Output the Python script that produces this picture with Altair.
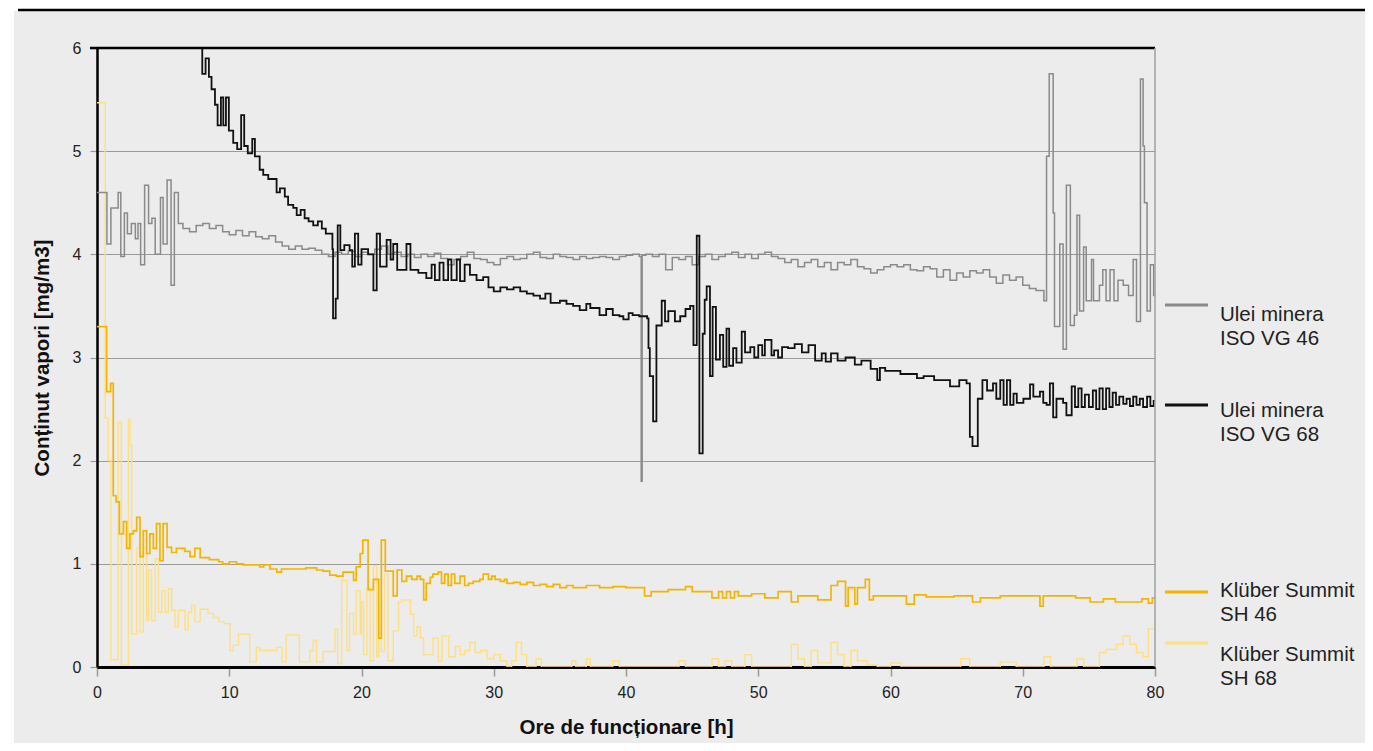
import altair as alt
import pandas as pd

# ---------------- data (hours, value) ----------------
gray_hours = [0, 0.75, 1.05, 1.6, 1.8, 2.07, 2.3, 2.6, 2.9, 3.1, 3.3, 3.6, 3.9, 4.15, 4.4, 4.8, 5.0, 5.3, 5.6, 5.85, 6.15,
              6.5, 7.0, 7.5, 8.0, 8.5, 9.0, 9.5, 10.0, 10.5, 11.0, 11.5, 12.0, 12.5, 13.0, 13.5, 14.0, 14.5, 15.0, 15.5,
              16.0, 16.5, 17.0, 17.5, 18.0, 18.5, 19.0, 19.5, 20.0, 20.5, 21.0, 21.5, 22.0, 22.5, 23.0, 23.5, 24.0,
              24.5, 25.0, 25.5, 26.0, 26.5, 27.0, 27.5, 28.0, 28.5, 29.0, 29.5, 30.0, 30.5, 31.0, 31.5, 32.0, 32.5,
              33.0, 33.5, 34.0, 34.5, 35.0, 35.5, 36.0, 36.5, 37.0, 37.5, 38.0, 38.5, 39.0, 39.5, 40.0, 40.5, 41.0,
              41.15, 41.22, 41.5, 42.0, 42.5, 43.0, 43.5, 44.0, 44.5, 45.0, 45.5, 46.0, 46.5, 47.0, 47.5, 48.0, 48.5,
              49.0, 49.5, 50.0, 50.5, 51.0, 51.5, 52.0, 52.5, 53.0, 53.5, 54.0, 54.5, 55.0, 55.5, 56.0, 56.5, 57.0,
              57.5, 58.0, 58.5, 59.0, 59.5, 60.0, 60.5, 61.0, 61.5, 62.0, 62.5, 63.0, 63.5, 64.0, 64.5, 65.0, 65.5,
              66.0, 66.5, 67.0, 67.5, 68.0, 68.5, 69.0, 69.5, 70.0, 70.5, 71.0, 71.6, 71.8, 72.0, 72.3, 72.4, 72.8,
              73.05, 73.3, 73.6, 73.9, 74.1, 74.3, 74.6, 74.8, 75.2, 75.35, 75.8, 76.05, 76.3, 76.6, 76.9, 77.2,
              77.6, 78.0, 78.35, 78.6, 78.9, 79.1, 79.2, 79.4, 79.65, 79.9, 80.0]
gray_values = [4.6, 4.1, 4.45, 4.6, 3.98, 4.4, 4.2, 4.3, 4.15, 4.3, 3.9, 4.67, 4.3, 4.35, 4.0, 4.55, 4.1, 4.72, 3.7, 4.6, 4.3,
               4.25, 4.22, 4.28, 4.3, 4.25, 4.28, 4.22, 4.19, 4.23, 4.18, 4.22, 4.17, 4.15, 4.18, 4.12, 4.08, 4.05, 4.08,
               4.05, 4.06, 4.04, 4.0, 3.98, 4.02, 4.0, 4.03, 3.98, 4.02, 4.0, 4.05, 4.08, 4.0, 4.02, 3.98, 4.0, 3.97,
               4.0, 3.98, 4.01, 3.96, 3.9, 3.95, 3.98, 4.02, 3.96, 3.95, 3.92, 3.9, 3.96, 3.98, 3.95, 3.96, 4.0,
               4.02, 3.97, 3.96, 4.0, 3.98, 3.97, 3.95, 3.98, 3.96, 3.97, 3.98, 3.97, 3.95, 3.98, 3.99, 4.0, 3.98,
               1.8, 3.99, 4.0, 3.98, 4.0, 3.85, 3.97, 3.95, 3.98, 3.9, 3.98, 4.0, 3.95, 3.98, 4.0, 4.02, 3.97,
               4.0, 3.96, 4.0, 4.02, 3.98, 3.96, 3.92, 3.95, 3.88, 3.92, 3.95, 3.88, 3.92, 3.85, 3.92, 3.9, 3.95,
               3.88, 3.86, 3.82, 3.85, 3.88, 3.9, 3.88, 3.9, 3.85, 3.84, 3.88, 3.86, 3.78, 3.85, 3.75, 3.82, 3.78,
               3.84, 3.82, 3.85, 3.78, 3.72, 3.8, 3.75, 3.78, 3.7, 3.67, 3.65, 3.55, 4.95, 5.75, 4.4, 3.3, 4.1,
               3.08, 4.67, 3.31, 3.41, 4.38, 3.45, 4.07, 3.55, 3.95, 3.55, 3.7, 3.85, 3.55, 3.85, 3.55, 3.75,
               3.7, 3.6, 3.95, 3.35, 5.7, 5.05, 4.5, 3.45, 3.9, 3.6, 3.6]

black_hours = [7.0, 7.96, 8.21, 8.46, 8.66, 8.92, 9.12, 9.37, 9.55, 9.75, 9.97, 10.3, 10.6, 10.9, 11.13, 11.4, 11.74,
               11.94, 12.3, 12.57, 12.95, 13.58, 13.83, 14.2, 14.45, 14.84, 15.1, 15.4, 15.7, 16.0, 16.35, 16.7, 17.0,
               17.3, 17.8, 17.85, 18.05, 18.2, 18.4, 18.7, 19.1, 19.3, 19.5, 19.75, 20.0, 20.5, 20.9, 21.15, 21.4,
               21.9, 22.2, 22.4, 22.7, 23.4, 23.7, 24.3, 24.9, 25.3, 25.55, 25.9, 26.2, 26.55, 26.8, 27.2, 27.45,
               27.8, 28.2, 28.7, 29.2, 29.6, 30.0, 30.5, 31.0, 31.5, 32.0, 32.5, 33.0, 33.5, 33.9, 34.3, 35.0, 35.5,
               36.0, 36.5, 37.0, 37.3, 38.0, 38.5, 39.0, 39.5, 39.8, 40.2, 40.5, 41.0, 41.6, 41.7, 41.8, 42.05,
               42.3, 42.7, 42.95, 43.2, 43.7, 44.1, 44.5, 44.85, 45.1, 45.35, 45.55, 45.8, 45.95, 46.1, 46.35,
               46.55, 46.8, 47.1, 47.35, 47.6, 47.8, 48.1, 48.35, 48.75, 49.0, 49.4, 49.7, 50.0, 50.3, 50.5, 51.0,
               51.2, 51.5, 51.8, 52.25, 52.75, 53.3, 53.8, 54.3, 54.8, 55.1, 55.5, 56.0, 56.6, 57.3, 57.8, 58.5,
               59.0, 59.2, 59.6, 60.75, 62.0, 62.5, 63.3, 64.5, 65.2, 65.75, 66.0, 66.2, 66.6, 66.95, 67.3, 67.75,
               68.0, 68.3, 68.55, 68.8, 69.05, 69.3, 69.55, 70.05, 70.55, 70.8, 71.3, 71.55, 71.8, 72.05, 72.3,
               72.55, 73.05, 73.3, 73.7, 73.95, 74.2, 74.45, 74.7, 75.0, 75.3, 75.55, 75.8, 76.05, 76.3, 76.55,
               76.8, 77.05, 77.3, 77.6, 77.85, 78.1, 78.35, 78.6, 78.85, 79.1, 79.4, 79.65, 79.9, 80.0]
black_values = [6.4, 5.75, 5.9, 5.72, 5.6, 5.45, 5.25, 5.52, 5.25, 5.52, 5.2, 5.08, 5.02, 5.35, 5.05, 4.98, 5.12,
                4.95, 4.82, 4.77, 4.73, 4.6, 4.64, 4.56, 4.48, 4.45, 4.38, 4.43, 4.35, 4.32, 4.28, 4.32, 4.25,
                4.2, 4.05, 3.38, 3.57, 4.28, 4.04, 4.09, 4.04, 3.88, 4.2, 3.9, 4.05, 4.0, 3.65, 4.2, 3.88,
                4.14, 3.95, 4.1, 3.85, 4.1, 3.85, 3.82, 3.77, 3.9, 3.75, 3.92, 3.75, 3.95, 3.75, 3.95, 3.74,
                3.9, 3.8, 3.75, 3.78, 3.68, 3.64, 3.68, 3.66, 3.68, 3.64, 3.62, 3.6, 3.57, 3.62, 3.53, 3.55, 3.52,
                3.5, 3.46, 3.52, 3.48, 3.41, 3.47, 3.41, 3.4, 3.37, 3.43, 3.41, 3.4, 3.38, 3.09, 2.82, 2.38,
                3.31, 3.55, 3.35, 3.45, 3.35, 3.4, 3.47, 3.5, 3.12, 4.18, 2.07, 3.23, 3.56, 3.69, 2.82,
                3.49, 2.98, 3.22, 2.91, 3.28, 2.92, 3.09, 2.95, 3.25, 3.05, 3.1, 3.0, 3.12, 3.02, 3.17, 3.02,
                3.07, 3.0, 3.1, 3.09, 3.13, 3.05, 3.12, 2.97, 3.04, 2.96, 3.04, 2.97, 3.0, 2.93, 2.97, 2.89,
                2.78, 2.9, 2.87, 2.84, 2.8, 2.82, 2.78, 2.72, 2.78, 2.75, 2.23, 2.14, 2.6, 2.78, 2.68, 2.75,
                2.6, 2.78, 2.54, 2.78, 2.54, 2.65, 2.56, 2.6, 2.74, 2.62, 2.67, 2.56, 2.54, 2.75, 2.42,
                2.6, 2.56, 2.44, 2.72, 2.52, 2.7, 2.52, 2.64, 2.52, 2.68, 2.5, 2.7, 2.5, 2.7, 2.52,
                2.66, 2.54, 2.62, 2.55, 2.6, 2.53, 2.62, 2.54, 2.6, 2.52, 2.62, 2.53, 2.58, 2.58]

sh46_hours = [0, 0.73, 1.03, 1.23, 1.44, 1.69, 2.0, 2.24, 2.49, 2.75, 3.0, 3.25, 3.5, 3.75, 4.0, 4.26, 4.5, 4.76, 5.0,
              5.3, 5.64, 6.0, 6.65, 7.03, 7.4, 7.8, 8.5, 9.2, 9.5, 10.0, 10.55, 11.06, 12.3, 12.6, 13.07, 13.6, 13.95,
              15.8, 16.6, 17.1, 17.6, 18.1, 18.6, 19.4, 19.6, 19.9, 20.1, 20.5, 20.9, 21.3, 21.5, 21.8, 22.4, 22.7,
              23.05, 23.4, 23.8, 24.2, 24.45, 24.7, 24.9, 25.2, 25.4, 25.8, 26.05, 26.3, 26.55, 26.8, 27.05, 27.45,
              27.8, 28.1, 28.45, 28.95, 29.2, 29.6, 29.85, 30.1, 30.5, 30.8, 31.0, 31.5, 32.0, 32.5, 33.0, 33.5,
              34.0, 34.5, 35.0, 35.5, 36.0, 37.0, 38.0, 39.0, 40.0, 41.4, 41.9, 43.2, 44.5, 45.0, 46.5, 47.0,
              47.3, 47.6, 47.9, 48.2, 48.5, 49.5, 50.5, 51.5, 52.5, 53.0, 54.5, 55.5, 56.0, 56.6, 56.8, 57.3,
              57.5, 58.1, 58.4, 58.7, 60.0, 61.2, 61.8, 62.7, 64.8, 66.2, 66.8, 68.3, 71.3, 71.55, 74.0, 75.1,
              76.1, 77.0, 79.0, 79.5, 79.8, 80.0]
sh46_values = [3.3, 2.67, 2.75, 1.66, 1.6, 1.29, 1.41, 1.15, 1.29, 1.32, 1.45, 1.07, 1.32, 1.1, 1.29, 1.15, 1.39, 1.03,
               1.39, 1.16, 1.11, 1.15, 1.12, 1.07, 1.15, 1.06, 1.04, 1.02, 1.0, 1.02, 1.0, 0.99, 0.97, 0.99, 0.95,
               0.92, 0.95, 0.96, 0.94, 0.93, 0.89, 0.88, 0.92, 0.84, 0.97, 1.1, 1.23, 0.75, 0.85, 0.28, 1.23,
               0.93, 0.69, 0.94, 0.83, 0.88, 0.85, 0.88, 0.85, 0.65, 0.81, 0.87, 0.9, 0.92, 0.81, 0.9, 0.79, 0.9,
               0.81, 0.88, 0.79, 0.81, 0.83, 0.85, 0.9, 0.85, 0.88, 0.85, 0.83, 0.85, 0.81, 0.82, 0.8, 0.82,
               0.79, 0.8, 0.78, 0.8, 0.77, 0.79, 0.77, 0.79, 0.77, 0.78, 0.77, 0.69, 0.73, 0.75, 0.78, 0.73,
               0.67, 0.73, 0.67, 0.73, 0.67, 0.73, 0.69, 0.71, 0.67, 0.73, 0.63, 0.69, 0.65, 0.79, 0.83, 0.59,
               0.77, 0.61, 0.77, 0.85, 0.65, 0.69, 0.69, 0.61, 0.7, 0.68, 0.69, 0.63, 0.67, 0.69, 0.59, 0.69,
               0.67, 0.63, 0.66, 0.63, 0.66, 0.62, 0.67, 0.67]

sh68_hours = [0, 0.62, 0.85, 1.05, 1.6, 1.85, 2.37, 2.5, 2.62, 3.0, 3.25, 3.5, 3.75, 3.9, 4.13, 4.4, 4.65, 4.9, 5.15,
              5.4, 5.64, 5.9, 6.15, 6.65, 6.9, 7.15, 7.4, 7.8, 8.4, 8.8, 9.2, 9.6, 10.05, 10.3, 10.7, 11.55, 12.05,
              12.3, 13.6, 14.0, 14.3, 15.3, 16.1, 16.35, 16.6, 17.1, 18.0, 18.2, 18.5, 18.9, 19.1, 19.4, 19.6,
              19.9, 20.0, 20.15, 20.4, 20.65, 20.9, 21.15, 21.3, 21.5, 21.75, 22.0, 22.4, 22.8, 23.05, 23.7,
              23.95, 24.2, 24.45, 24.7, 25.4, 25.8, 26.1, 26.6, 27.1, 27.45, 27.8, 28.2, 28.6, 29.0, 29.5, 30.0,
              30.5, 31.0, 31.35, 31.7, 32.1, 32.5, 33.2, 33.6, 35.9, 36.2, 37.0, 37.3, 39.0, 39.5, 44.0, 44.5,
              46.5, 47.0, 47.5, 48.0, 49.0, 49.5, 52.5, 53.0, 53.5, 54.0, 54.5, 55.5, 56.0, 56.5, 57.0, 57.5,
              58.2, 59.0, 60.0, 60.8, 65.3, 66.0, 68.3, 69.5, 71.6, 72.1, 74.1, 74.6, 75.8, 76.3, 77.1, 77.6,
              78.1, 78.6, 79.1, 79.5, 80.0]
sh68_values = [5.47, 2.41, 2.0, 0.07, 2.37, 0.02, 2.4, 2.15, 0.32, 1.16, 0.34, 1.15, 0.45, 0.94, 0.45, 1.05, 0.53,
               0.74, 0.53, 0.76, 0.55, 0.39, 0.55, 0.36, 0.53, 0.6, 0.44, 0.56, 0.52, 0.48, 0.44, 0.42, 0.16, 0.21,
               0.32, 0.05, 0.19, 0.16, 0.19, 0.05, 0.31, 0.05, 0.16, 0.26, 0.05, 0.15, 0.37, 0.03, 0.84, 0.16,
               0.52, 0.32, 0.74, 0.32, 0.63, 0.12, 0.77, 0.06, 0.98, 0.1, 0.6, 0.15, 0.9, 0.06, 0.35, 0.63,
               0.65, 0.51, 0.3, 0.39, 0.28, 0.12, 0.28, 0.06, 0.3, 0.1, 0.2, 0.12, 0.16, 0.24, 0.14, 0.16,
               0.08, 0.12, 0.06, 0.0, 0.06, 0.24, 0.12, 0.0, 0.08, 0.0, 0.06, 0.0, 0.08, 0.0, 0.06, 0.0,
               0.06, 0.0, 0.08, 0.0, 0.06, 0.0, 0.12, 0.0, 0.22, 0.08, 0.0, 0.16, 0.04, 0.24, 0.12, 0.0,
               0.16, 0.06, 0.02, 0.0, 0.04, 0.0, 0.08, 0.0, 0.05, 0.0, 0.1, 0.0, 0.08, 0.0, 0.14, 0.17,
               0.22, 0.3, 0.22, 0.14, 0.1, 0.37, 0.37]

series_names = ["Ulei minera ISO VG 46", "Ulei minera ISO VG 68", "Klüber Summit SH 46", "Klüber Summit SH 68"]
legend_lines = [["Ulei minera", "ISO VG 46"], ["Ulei minera", "ISO VG 68"],
                ["Klüber Summit", "SH 46"], ["Klüber Summit", "SH 68"]]
x_ticks = [0, 10, 20, 30, 40, 50, 60, 70, 80]
y_ticks = [0, 1, 2, 3, 4, 5, 6]

# ---------------- styling ----------------
FONT = "Liberation Sans"
BG = "#ebeceb"
GRID = "#9a9a9a"
colors = {
    series_names[0]: "#8a8a8a",
    series_names[1]: "#111111",
    series_names[2]: "#f5b400",
    series_names[3]: "#ffdf85",
}
W, H = 1058, 619

x_scale = alt.Scale(domain=[0, 80], nice=False, zero=False)
y_scale = alt.Scale(domain=[0, 6], nice=False)

x_axis = alt.Axis(values=x_ticks, title="Ore de funcționare [h]", titleFont=FONT, titleFontSize=20.5,
                  titleFontWeight="bold", titleColor="#111", titleX=W / 2, titleY=60, titleBaseline="middle",
                  labelFont=FONT, labelFontSize=16, labelColor="#222", labelPadding=8, labelFlush=False,
                  domainColor="#000", domainWidth=3, tickColor="#9a9a9a", tickSize=9, tickWidth=1.5,
                  grid=False)
y_axis = alt.Axis(values=y_ticks, title="Conținut vapori [mg/m3]", titleFont=FONT, titleFontSize=20.5,
                  titleFontWeight="bold", titleColor="#111", titleAngle=-90, titleX=-55, titleY=H / 2,
                  titleAlign="center", titleBaseline="middle",
                  labelFont=FONT, labelFontSize=16, labelColor="#222", labelPadding=9,
                  domainColor="#000", domainWidth=2.5, tickColor=GRID, tickSize=7, tickWidth=1.2,
                  grid=True, gridColor=GRID, gridWidth=1.2)

one = pd.DataFrame({"k": [0]})


def series_layer(name, hours, values, width):
    df = pd.DataFrame({"h": hours, "v": values, "s": name})
    return alt.Chart(df).mark_line(interpolate="step-after", clip=True, strokeWidth=width,
                                   color=colors[name]).encode(
        x=alt.X("h:Q", scale=x_scale, axis=x_axis),
        y=alt.Y("v:Q", scale=y_scale, axis=y_axis))


lines = [
    series_layer(series_names[3], sh68_hours, sh68_values, 1.4),
    series_layer(series_names[2], sh46_hours, sh46_values, 1.7),
    series_layer(series_names[0], gray_hours, gray_values, 1.5),
    series_layer(series_names[1], black_hours, black_values, 1.8),
]

# frame pieces
top_border = alt.Chart(one).mark_rule(color="#000", strokeWidth=2.5).encode(
    y=alt.datum(6, scale=y_scale, axis=y_axis), x=alt.value(-7), x2=alt.value(W))
right_border = alt.Chart(one).mark_rule(color="#a0a0a0", strokeWidth=1.5).encode(
    x=alt.datum(80, scale=x_scale, axis=x_axis), y=alt.value(0), y2=alt.value(H))
white_top = alt.Chart(one).mark_rect(color="white").encode(
    x=alt.value(-89), x2=alt.value(1280), y=alt.value(-40), y2=alt.value(-37))
white_left = alt.Chart(one).mark_rect(color="white").encode(
    x=alt.value(-89), x2=alt.value(-83), y=alt.value(-40), y2=alt.value(H + 76))
page_rule = alt.Chart(one).mark_rule(color="#000", strokeWidth=2.5).encode(
    x=alt.value(-79), x2=alt.value(1280), y=alt.value(-38))

# legend (custom, uneven spacing as in the reference)
leg_line_y = [257, 357, 544, 595]
leg_text_y = [267, 363, 543, 607]
legend_layers = []
for name, ly, ty, lab in zip(series_names, leg_line_y, leg_text_y, legend_lines):
    legend_layers.append(alt.Chart(one).mark_rule(color=colors[name], strokeWidth=3).encode(
        x=alt.value(1068), x2=alt.value(1111), y=alt.value(ly)))
    legend_layers.append(alt.Chart(one).mark_text(align="left", baseline="middle", font=FONT, fontSize=20.5,
                                                  lineHeight=24, color="#222").encode(
        x=alt.value(1123), y=alt.value(ty), text=alt.value(lab)))

chart = alt.layer(
    white_top, white_left, page_rule,
    *lines,
    top_border, right_border,
    *legend_layers,
).properties(
    width=W, height=H,
    autosize=alt.AutoSizeParams(type="none"),
    padding={"left": 89, "top": 40, "right": 210, "bottom": 76},
    background=BG,
).configure_view(strokeWidth=0)

chart.save("out.html", embed_options={"renderer": "svg", "actions": False})
